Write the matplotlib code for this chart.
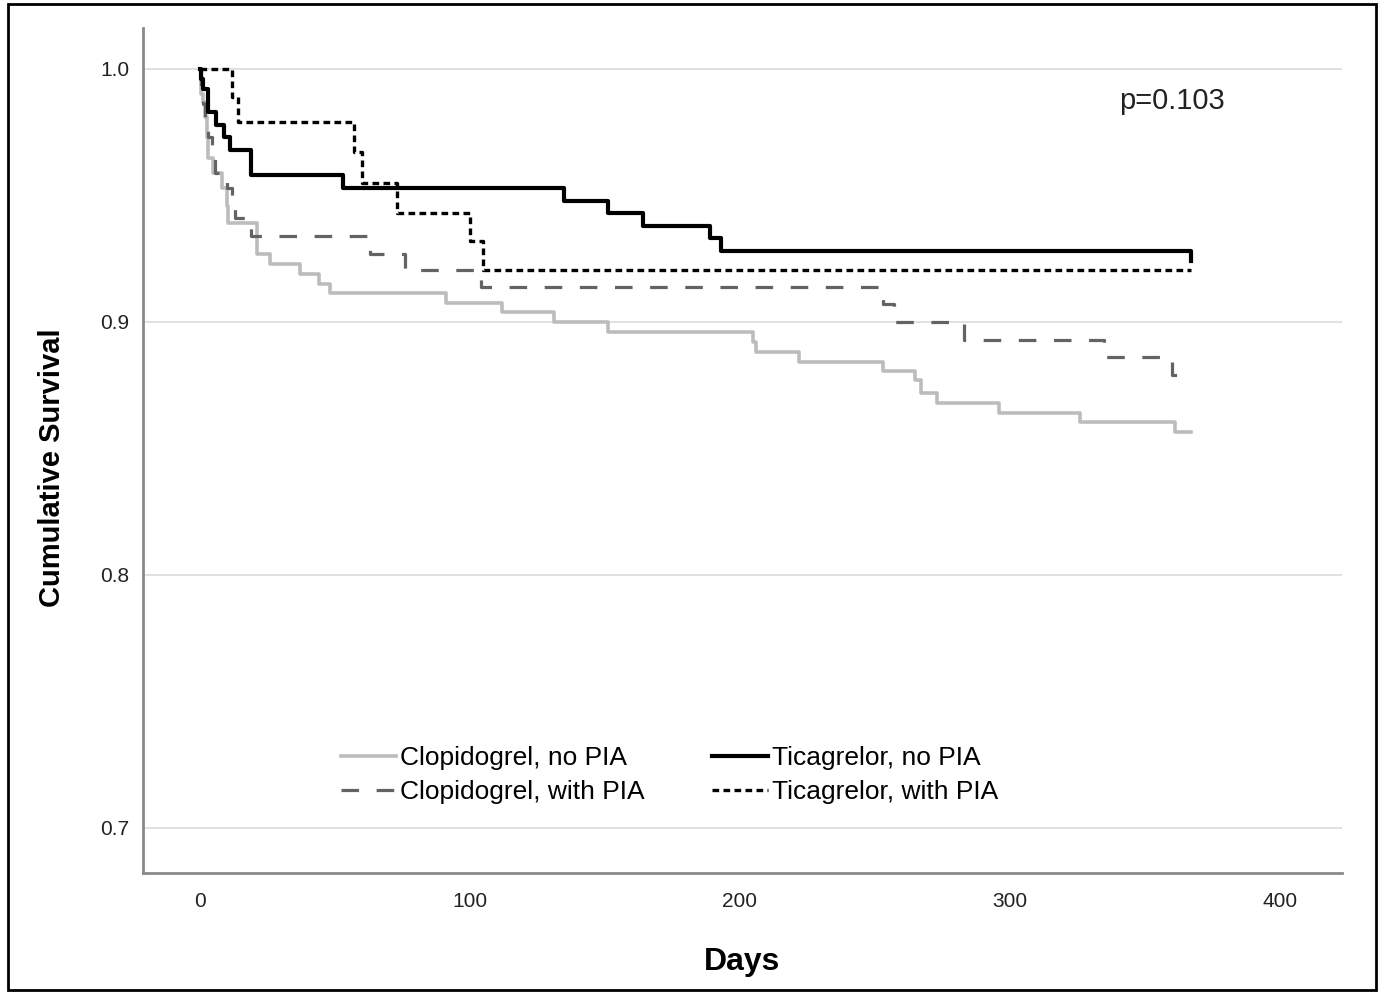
import matplotlib
matplotlib.use("Agg")
import matplotlib.pyplot as plt
from matplotlib.patches import Rectangle

# Kaplan-Meier steps (days, cumulative survival)
clop_no_days = [0, 0.5, 1, 2, 2.5, 3, 5, 8, 10, 10.5, 21, 26, 37, 44, 48, 91, 112, 131,
                151, 205, 206, 222, 253, 265, 267, 273, 296, 326, 361, 367]
clop_no_surv = [1.0, 0.990, 0.987, 0.981, 0.973, 0.965, 0.959, 0.953, 0.946, 0.939, 0.927,
                0.923, 0.919, 0.915, 0.9115, 0.9075, 0.904, 0.900, 0.896, 0.892, 0.888,
                0.884, 0.8805, 0.877, 0.872, 0.868, 0.864, 0.8605, 0.8565, 0.8565]

clop_pia_days = [0, 0.5, 1, 2, 3, 4.5, 5.5, 10, 12, 13, 19, 63, 76, 104, 253, 257, 283,
                 335, 360, 367]
clop_pia_surv = [1.0, 0.993, 0.986, 0.980, 0.973, 0.966, 0.959, 0.953, 0.947, 0.941,
                 0.934, 0.927, 0.9205, 0.9138, 0.907, 0.900, 0.893, 0.886, 0.879, 0.879]

tica_no_days = [0, 0.5, 1, 3, 6, 9, 11, 19, 53, 135, 151, 164, 189, 193, 367]
tica_no_surv = [1.0, 0.996, 0.992, 0.983, 0.978, 0.973, 0.968, 0.958, 0.953, 0.948, 0.943,
                0.938, 0.933, 0.928, 0.924]

tica_pia_days = [0, 12, 14, 57, 60, 73, 100, 105, 367]
tica_pia_surv = [1.0, 0.989, 0.979, 0.967, 0.955, 0.943, 0.932, 0.9205, 0.9205]

labels = ["Clopidogrel, no PIA", "Clopidogrel, with PIA", "Ticagrelor, no PIA", "Ticagrelor, with PIA"]
xticks = [0, 100, 200, 300, 400]
yticks = [0.7, 0.8, 0.9, 1.0]
p_text = "p=0.103"

plt.rcParams['font.family'] = ['Liberation Sans', 'DejaVu Sans']

fig = plt.figure(figsize=(13.8, 9.94), dpi=100)
ax = fig.add_axes([143/1380, 1 - 873/994, (1342-143)/1380, (873-28)/994])

ax.step(clop_no_days, clop_no_surv, where='post', color='#bcbcbc', lw=2.6, label=labels[0])
ax.step(clop_pia_days, clop_pia_surv, where='post', color='#636363', lw=2.3,
        dashes=(5.5, 5.5), label=labels[1])
ax.step(tica_no_days, tica_no_surv, where='post', color='black', lw=3.0, label=labels[2])
ax.step(tica_pia_days, tica_pia_surv, where='post', color='black', lw=2.4,
        dashes=(2, 1.3), label=labels[3])

ax.set_xlim(-21.1, 423)
ax.set_ylim(0.6822, 1.0162)
ax.set_xticks(xticks)
ax.set_yticks(yticks)
ax.set_yticklabels(["%.1f" % v for v in yticks])
ax.tick_params(length=0, labelsize=15, colors='#222222')
ax.tick_params(axis='x', pad=14)
ax.tick_params(axis='y', pad=10)

for y in yticks:
    ax.axhline(y, color='#dedede', lw=1.3, zorder=0)

for s in ['top', 'right']:
    ax.spines[s].set_visible(False)
for s in ['left', 'bottom']:
    ax.spines[s].set_color('#8a8a8a')
    ax.spines[s].set_linewidth(2)

ax.text(340.5, 0.9874, p_text, fontsize=21, va='center', ha='left', color='#222222')

ax.legend(loc='upper left', bbox_to_anchor=(0.154, 0.166), ncol=2, frameon=False,
          fontsize=19, handlelength=2.1, handletextpad=0.15, columnspacing=2.55,
          labelspacing=0.4, borderpad=0)

fig.text(742/1380, 1 - 962/994, "Days", fontsize=23, fontweight='bold', ha='center', va='center')
fig.text(52/1380, 1 - 468/994, "Cumulative Survival", fontsize=21, fontweight='bold',
         rotation=90, ha='center', va='center')

fig.patches.append(Rectangle((8/1380, 4/994), 1368/1380, 986/994, transform=fig.transFigure,
                             fill=False, edgecolor='black', lw=2))

fig.savefig("out.png", dpi=100)
